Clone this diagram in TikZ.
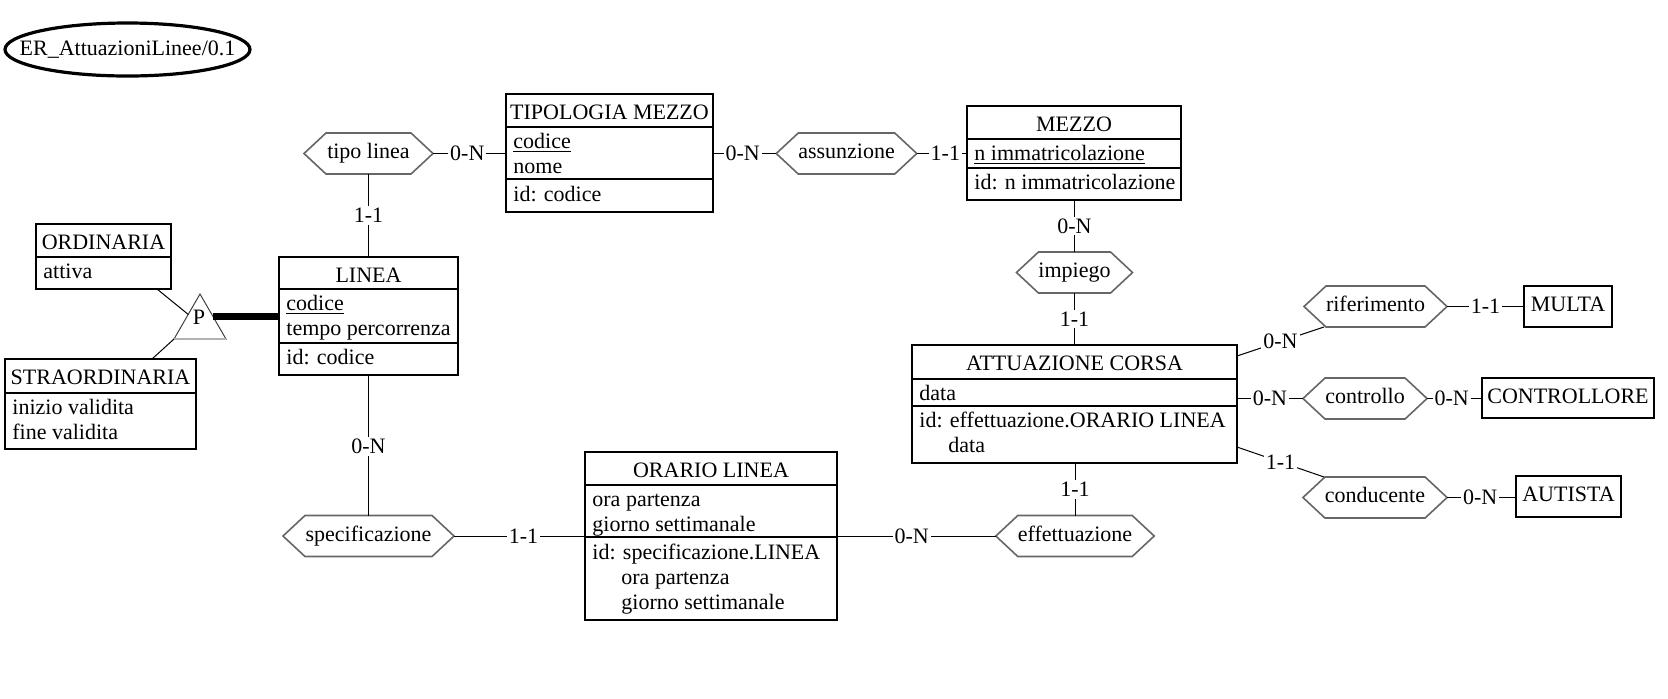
\documentclass[tikz,border=0pt]{standalone}
\usepackage{fontspec}
\setmainfont{Liberation Serif}
\usetikzlibrary{shapes.geometric}
\usetikzlibrary{shapes.symbols}
\usetikzlibrary{positioning}

\tikzset{
  ebox/.style={draw, line width=0.7pt, inner sep=0pt, outer sep=0pt},
  esep/.style={line width=0.7pt},
  etitle/.style={anchor=base, inner sep=0pt},
  eattr/.style={anchor=base west, inner sep=0pt},
  sbox/.style={draw, line width=0.7pt, inner sep=0pt, outer sep=0pt, text height=7.5pt, text depth=2.5pt},
  rel/.style={signal, signal to=west and east, signal pointer angle=86, draw=black!60, line width=0.8pt,
    minimum height=20.5pt, inner xsep=0pt, inner ysep=0pt, outer sep=0pt, text height=7.5pt, text depth=2.5pt},
  conn/.style={line width=0.5pt},
  card/.style={fill=white, inner sep=1pt},
  isaline/.style={line width=3.5pt}
}

\begin{document}
\begin{tikzpicture}[x=0.5pt, y=-0.5pt, font=\fontsize{11}{12.5}\selectfont]
\useasboundingbox (0,0) rectangle (1668,698);

%schema name
\node[inner sep=0pt] (schema) at (127.5,49.5) {ER\_AttuazioniLinee/0.1};
\draw[line width=1.6pt] (schema.center) ellipse [x radius=61.25pt, y radius=13.25pt];

%TIPOLOGIA MEZZO - box
\node[ebox, minimum width=103.5pt, minimum height=59pt] (tipologia) at (609.5,153) {};
\draw[esep] (tipologia.west |- 0,127) -- (tipologia.east |- 0,127);
\draw[esep] (tipologia.west |- 0,179) -- (tipologia.east |- 0,179);
%TIPOLOGIA MEZZO - text
\node[etitle] (tipologia-t) at (609.5,119) {TIPOLOGIA MEZZO};
\node[eattr] (tipologia-a1) at (513,148) {\underline{codice}};
\node[eattr] (tipologia-a2) at (513,173) {nome};
\node[eattr] (tipologia-id) at (513,201) {id: codice};

%MEZZO - box
\node[ebox, minimum width=107pt, minimum height=47pt] (mezzo) at (1074,153) {};
\draw[esep] (mezzo.west |- 0,139) -- (mezzo.east |- 0,139);
\draw[esep] (mezzo.west |- 0,168) -- (mezzo.east |- 0,168);
%MEZZO - text
\node[etitle] (mezzo-t) at (1074,131) {MEZZO};
\node[eattr] (mezzo-a1) at (974,160) {\underline{n immatricolazione}};
\node[eattr] (mezzo-id) at (974,189) {id: n immatricolazione};

%LINEA - box
\node[ebox, minimum width=89.5pt, minimum height=59pt] (linea) at (368.5,316) {};
\draw[esep] (linea.west |- 0,289) -- (linea.east |- 0,289);
\draw[esep] (linea.west |- 0,343) -- (linea.east |- 0,343);
%LINEA - text
\node[etitle] (linea-t) at (368.5,282) {LINEA};
\node[eattr] (linea-a1) at (286,310) {\underline{codice}};
\node[eattr] (linea-a2) at (286,335) {tempo percorrenza};
\node[eattr] (linea-id) at (286,364) {id: codice};

%ORDINARIA - box
\node[ebox, minimum width=67.5pt, minimum height=32.5pt] (ordinaria) at (103.5,256.5) {};
\draw[esep] (ordinaria.west |- 0,257) -- (ordinaria.east |- 0,257);
\node[etitle] (ordinaria-t) at (103.5,249) {ORDINARIA};
\node[eattr] (ordinaria-a1) at (43,278) {attiva};

%STRAORDINARIA - box
\node[ebox, minimum width=95.5pt, minimum height=45pt] (straordinaria) at (100.5,404) {};
\draw[esep] (straordinaria.west |- 0,393) -- (straordinaria.east |- 0,393);
\node[etitle] (straordinaria-t) at (100.5,384) {STRAORDINARIA};
\node[eattr] (straordinaria-a1) at (12,414) {inizio validita};
\node[eattr] (straordinaria-a2) at (12,439) {fine validita};

%ATTUAZIONE CORSA - box
\node[ebox, minimum width=162.5pt, minimum height=59pt] (attuazione) at (1074.5,404) {};
\draw[esep] (attuazione.west |- 0,379) -- (attuazione.east |- 0,379);
\draw[esep] (attuazione.west |- 0,406) -- (attuazione.east |- 0,406);
%ATTUAZIONE CORSA - text
\node[etitle] (attuazione-t) at (1074.5,370) {ATTUAZIONE CORSA};
\node[eattr] (attuazione-a1) at (919,400) {data};
\node[eattr] (attuazione-id1) at (919,427) {id: effettuazione.ORARIO LINEA};
\node[eattr] (attuazione-id2) at (948,452) {data};

%ORARIO LINEA - box
\node[ebox, minimum width=126pt, minimum height=84pt] (orario) at (711,536) {};
\draw[esep] (orario.west |- 0,485) -- (orario.east |- 0,485);
\draw[esep] (orario.west |- 0,537) -- (orario.east |- 0,537);
%ORARIO LINEA - text
\node[etitle] (orario-t) at (711,477) {ORARIO LINEA};
\node[eattr] (orario-a1) at (592,506) {ora partenza};
\node[eattr] (orario-a2) at (592,531) {giorno settimanale};
\node[eattr] (orario-id1) at (592,559) {id: specificazione.LINEA};
\node[eattr] (orario-id2) at (621,584) {ora partenza};
\node[eattr] (orario-id3) at (621,609) {giorno settimanale};

%small entities
\node[sbox, minimum width=44pt, minimum height=20.5pt] (multa) at (1568,306.5) {MULTA};
\node[sbox, minimum width=86pt, minimum height=20pt] (controllore) at (1568,398) {CONTROLLORE};
\node[sbox, minimum width=52.5pt, minimum height=20.5pt] (autista) at (1568.5,496.5) {AUTISTA};

%relationships
\node[rel, minimum width=64.5pt] (tipolinea) at (368.5,153.5) {tipo linea};
\node[rel, minimum width=69.5pt] (assunzione) at (846.5,153.5) {assunzione};
\node[rel, minimum width=57.5pt] (impiego) at (1074.5,272.5) {impiego};
\node[rel, minimum width=71.5pt] (riferimento) at (1375.5,306.5) {riferimento};
\node[rel, minimum width=62pt] (controllo) at (1365,398.5) {controllo};
\node[rel, minimum width=72pt] (conducente) at (1375,497.5) {conducente};
\node[rel, minimum width=78pt] (effettuazione) at (1075,536) {effettuazione};
\node[rel, minimum width=85.5pt] (specificazione) at (368.5,536) {specificazione};

%is-a triangle
\node[regular polygon, regular polygon sides=3, minimum size=30pt, inner sep=0pt, outer sep=0pt, draw=black!75, line width=0.5pt] (isa) at (200,324) {};
\draw[gray!60, line width=0.9pt] (isa.210) -- (isa.330);	%base
\node[inner sep=0pt] (isap) at (199,317.5) {P};

%is-a - lines
\draw[conn] ([xshift=-7pt]ordinaria.south east) -- (isa);			%ordinaria--P
\draw[conn] ([xshift=25.75pt]straordinaria.north) -- (isa.210);	%straordinaria--P
\draw[isaline] (isa.30) -- (isa.30 -| linea.west);					%P--linea

%relationships - lines
\draw[conn] (tipolinea.east) -- node[card, pos=0.47]{0-N} (tipolinea.east -| tipologia.west);	%tipo linea--tipologia
\draw[conn] (tipolinea.south) -- node[card]{1-1} (linea.north);								%tipo linea--linea
\draw[conn] (tipologia.east |- assunzione.west) -- node[card, pos=0.47]{0-N} (assunzione.west);	%tipologia--assunzione
\draw[conn] (assunzione.east) -- node[card, pos=0.57]{1-1} (assunzione.east -| mezzo.west);		%assunzione--mezzo
\draw[conn] (impiego.north |- mezzo.south) -- node[card]{0-N} (impiego.north);					%mezzo--impiego
\draw[conn] (impiego.south) -- node[card]{1-1} (impiego.south |- attuazione.north);				%impiego--attuazione
\draw[conn] (effettuazione.north |- attuazione.south) -- node[card]{1-1} (effettuazione.north);	%attuazione--effettuazione
\draw[conn] (orario.east |- effettuazione.west) -- node[card, pos=0.47]{0-N} (effettuazione.west);	%orario--effettuazione
\draw[conn] (linea.south) -- node[card, pos=0.51]{0-N} (specificazione.north);				%linea--specificazione
\draw[conn] (specificazione.east) -- node[card, pos=0.53]{1-1} (specificazione.east -| orario.west);	%specificazione--orario
%
\draw[conn] ([yshift=-5.5pt]attuazione.north east) -- node[card]{0-N} ([xshift=-25.75pt]riferimento.south);	%attuazione--riferimento
\draw[conn] (attuazione.east |- controllo.west) -- node[card]{0-N} (controllo.west);			%attuazione--controllo
\draw[conn] ([yshift=8pt]attuazione.south east) -- node[card]{1-1} ([xshift=-25.5pt]conducente.north);	%attuazione--conducente
%
\draw[conn] (riferimento.east) -- node[card]{1-1} (riferimento.east -| multa.west);			%riferimento--multa
\draw[conn] (controllo.east) -- node[card, pos=0.45]{0-N} (controllo.east -| controllore.west);	%controllo--controllore
\draw[conn] (conducente.east) -- node[card, pos=0.48]{0-N} (conducente.east -| autista.west);	%conducente--autista
\end{tikzpicture}
\end{document}
